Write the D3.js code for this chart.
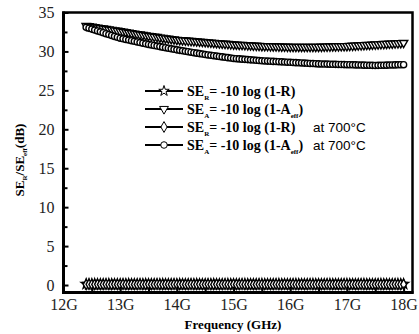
<!DOCTYPE html>
<html><head><meta charset="utf-8">
<script src="https://cdn.jsdelivr.net/npm/d3@7"></script>
<style>body{margin:0;background:#fff}svg{display:block}</style>
</head><body><svg id="c" width="419" height="334"></svg>
<script>
// ---- data ----
const freqStart = 12.4, freqStep = 0.05, nPts = 113;
const seR = [0.12,0.11,0.12,0.13,0.12,0.11,0.12,0.12,0.13,0.12,0.11,0.12,0.12,
0.11,0.12,0.13,0.12,0.12,0.11,0.12,0.12,0.13,0.12,
0.12,0.11,0.12,0.12,0.13,0.12,0.11,0.12,0.12,0.12,
0.13,0.12,0.11,0.12,0.12,0.12,0.13,0.12,0.11,0.12,
0.12,0.12,0.13,0.12,0.11,0.12,0.12,0.13,0.12,0.12,
0.11,0.12,0.12,0.13,0.12,0.11,0.12,0.12,0.12,0.13,
0.12,0.12,0.11,0.12,0.12,0.13,0.12,0.11,0.12,0.12,
0.12,0.13,0.12,0.11,0.12,0.12,0.12,0.13,0.12,0.12,
0.11,0.12,0.12,0.13,0.12,0.12,0.11,0.12,0.12,0.13,
0.12,0.11,0.12,0.12,0.12,0.13,0.12,0.12,0.11,0.12,
0.12,0.13,0.12,0.11,0.12,0.12,0.12,0.13,0.12,0.12];
const seA = [33.30,33.24,33.19,33.12,33.07,33.01,32.95,32.89,32.83,32.78,32.72,32.66,32.60,
32.54,32.48,32.42,32.37,32.30,32.24,32.18,32.12,32.06,32.00,
31.96,31.89,31.86,31.79,31.76,31.69,31.66,31.59,31.55,31.50,
31.47,31.44,31.41,31.38,31.35,31.32,31.29,31.26,31.23,31.20,
31.17,31.14,31.11,31.08,31.05,31.02,30.99,30.96,30.93,30.90,
30.88,30.86,30.84,30.82,30.80,30.78,30.76,30.74,30.72,30.70,
30.69,30.68,30.67,30.66,30.65,30.64,30.63,30.62,30.61,30.60,
30.60,30.59,30.60,30.59,30.60,30.60,30.59,30.60,30.60,30.60,
30.61,30.62,30.63,30.64,30.65,30.66,30.67,30.68,30.69,30.70,
30.72,30.74,30.76,30.78,30.80,30.82,30.84,30.86,30.88,30.90,
30.92,30.94,30.96,30.98,31.00,31.02,31.04,31.06,31.08,31.10];
const seR700 = [0.08,0.09,0.08,0.08,0.09,0.08,0.08,0.09,0.08,0.08,0.09,0.08,0.08,
0.09,0.08,0.08,0.09,0.08,0.08,0.09,0.08,0.08,0.09,
0.08,0.08,0.09,0.08,0.08,0.09,0.08,0.08,0.09,0.08,
0.08,0.09,0.08,0.08,0.09,0.08,0.08,0.09,0.08,0.08,
0.09,0.08,0.08,0.09,0.08,0.08,0.09,0.08,0.08,0.09,
0.08,0.08,0.09,0.08,0.08,0.09,0.08,0.08,0.09,0.08,
0.08,0.09,0.08,0.08,0.09,0.08,0.08,0.09,0.08,0.08,
0.09,0.08,0.08,0.09,0.08,0.08,0.09,0.08,0.08,0.09,
0.08,0.08,0.09,0.08,0.08,0.09,0.08,0.08,0.09,0.08,
0.08,0.09,0.08,0.08,0.09,0.08,0.08,0.09,0.08,0.08,
0.09,0.08,0.08,0.09,0.08,0.08,0.09,0.08,0.08,0.09];
const seA700 = [33.10,32.98,32.87,32.75,32.63,32.52,32.40,32.28,32.17,32.05,31.93,31.82,31.70,
31.62,31.54,31.46,31.38,31.30,31.22,31.14,31.06,30.98,30.90,
30.83,30.76,30.69,30.62,30.55,30.48,30.41,30.34,30.27,30.20,
30.14,30.08,30.02,29.96,29.90,29.84,29.78,29.72,29.66,29.60,
29.55,29.50,29.45,29.40,29.35,29.30,29.25,29.20,29.15,29.10,
29.07,29.04,29.01,28.98,28.95,28.92,28.89,28.86,28.83,28.80,
28.78,28.76,28.74,28.72,28.70,28.68,28.66,28.64,28.62,28.60,
28.58,28.56,28.54,28.52,28.50,28.48,28.46,28.44,28.42,28.40,
28.39,28.38,28.37,28.36,28.35,28.34,28.33,28.32,28.31,28.30,
28.29,28.28,28.27,28.26,28.25,28.24,28.23,28.22,28.21,28.20,
28.21,28.22,28.23,28.24,28.25,28.26,28.27,28.28,28.29,28.30];
const xTicks = [12,13,14,15,16,17,18];
const xTickLabels = ["12G","13G","14G","15G","16G","17G","18G"];
const yTicks = [0,5,10,15,20,25,30,35];
const legendMain = ["SE|R|= -10 log (1-R)","SE|A|= -10 log (1-A|eff|)","SE|R|= -10 log (1-R)","SE|A|= -10 log (1-A|eff|)"];
const legendExtra = ["","","at 700°C","at 700°C"];

// ---- chart ----
const svg = d3.select("#c");
const L=63.5, R=412.5, T=12.5, B=292.5;
const x = d3.scaleLinear().domain([12, 18.157]).range([L, R]);
const y = d3.scaleLinear().domain([-0.96, 35]).range([B, T]);
const freq = d3.range(nPts).map(i => +(freqStart + i*freqStep).toFixed(2));

const series = [
  {vals: seR, sym: d3.symbolStar, size: 30, rot: 0},
  {vals: seA, sym: d3.symbolTriangle, size: 30, rot: 180},
  {vals: seR700, sym: d3.symbolDiamond, size: 30, rot: 0},
  {vals: seA700, sym: d3.symbolCircle, size: 30, rot: 0}
];

const plot = svg.append("g");
series.forEach(s => {
  const pts = freq.map((f,i)=>[f, s.vals[i]]);
  plot.append("path").datum(pts)
    .attr("d", d3.line().x(d=>x(d[0])).y(d=>y(d[1])))
    .attr("fill","none").attr("stroke","#000").attr("stroke-width",1.5);
  plot.selectAll(null).data(pts).enter().append("path")
    .attr("d", d3.symbol().type(s.sym).size(s.size))
    .attr("transform", d=>`translate(${x(d[0])},${y(d[1])}) rotate(${s.rot})`)
    .attr("fill","#fff").attr("stroke","#000").attr("stroke-width",1.4);
});

// axes
const font = "'Liberation Serif', serif";
const yAx = svg.append("g").attr("transform",`translate(${L},0)`)
  .call(d3.axisLeft(y).tickValues(yTicks).tickSize(-5).tickPadding(9));
yAx.select(".domain").remove();
yAx.selectAll("line").attr("stroke-width",2);
yAx.selectAll("text").attr("font-family",font).attr("font-size",16).attr("fill","#222");
const yMin = svg.append("g").attr("transform",`translate(${L},0)`)
  .call(d3.axisLeft(y).tickValues(d3.range(2.5,35,5)).tickSize(-4).tickFormat(""));
yMin.select(".domain").remove();
yMin.selectAll("line").attr("stroke-width",2);

const xAx = svg.append("g").attr("transform",`translate(0,${B})`)
  .call(d3.axisBottom(x).tickValues(xTicks).tickSize(-6).tickPadding(6)
    .tickFormat((d,i)=>xTickLabels[i]));
xAx.select(".domain").remove();
xAx.selectAll("line").attr("stroke-width",2);
xAx.selectAll("text").attr("font-family",font).attr("font-size",16).attr("fill","#222");
const xMin = svg.append("g").attr("transform",`translate(0,${B})`)
  .call(d3.axisBottom(x).tickValues(d3.range(12.5,18,1)).tickSize(-5).tickFormat(""));
xMin.select(".domain").remove();
xMin.selectAll("line").attr("stroke-width",2);

// frame
svg.append("rect").attr("x",L).attr("y",T).attr("width",R-L).attr("height",B-T)
  .attr("fill","none").attr("stroke","#000").attr("stroke-width",2.5);
svg.append("line").attr("x1",L).attr("x2",L).attr("y1",T-1).attr("y2",B+1.5).attr("stroke","#000").attr("stroke-width",3);
svg.append("line").attr("x1",L-1.5).attr("x2",R+1).attr("y1",B).attr("y2",B).attr("stroke","#000").attr("stroke-width",3);

// axis titles
svg.append("text").attr("x",233).attr("y",329).attr("text-anchor","middle")
  .attr("font-family",font).attr("font-weight","bold").attr("font-size",13).text("Frequency (GHz)");
const yt = svg.append("text").attr("transform","translate(24,160) rotate(-90)").attr("text-anchor","middle")
  .attr("font-family",font).attr("font-weight","bold").attr("font-size",13);
yt.append("tspan").text("SE");
yt.append("tspan").attr("font-size",7).attr("dy",3).text("R");
yt.append("tspan").attr("dy",-3).text("/SE");
yt.append("tspan").attr("font-size",7).attr("dy",3).text("eff");
yt.append("tspan").attr("dy",-3).text("(dB)");

// legend
const legY = [91,109,127,145];
series.forEach((s,i)=>{
  const g = svg.append("g").attr("transform",`translate(0,${legY[i]})`);
  g.append("line").attr("x1",145).attr("x2",183).attr("y1",0).attr("y2",0).attr("stroke","#000").attr("stroke-width",2);
  g.append("path").attr("d", d3.symbol().type(s.sym).size(34))
    .attr("transform",`translate(164,0) rotate(${s.rot})`)
    .attr("fill","#fff").attr("stroke","#000").attr("stroke-width",1);
  const t = g.append("text").attr("x",187).attr("y",5).attr("font-family",font)
    .attr("font-weight","bold").attr("font-size",14);
  const parts = legendMain[i].split("|");
  parts.forEach((p,k)=>{
    if(k%2===1){ t.append("tspan").attr("font-size",7).attr("dy",4).text(p); }
    else { const sp=t.append("tspan").text(p); if(k>0) sp.attr("dy",-4); }
  });
  if(legendExtra[i]) g.append("text").attr("x",313).attr("y",5)
    .attr("font-family","'Liberation Sans', Arial, sans-serif").attr("font-size",13.5).text(legendExtra[i]);
});
</script></body></html>
